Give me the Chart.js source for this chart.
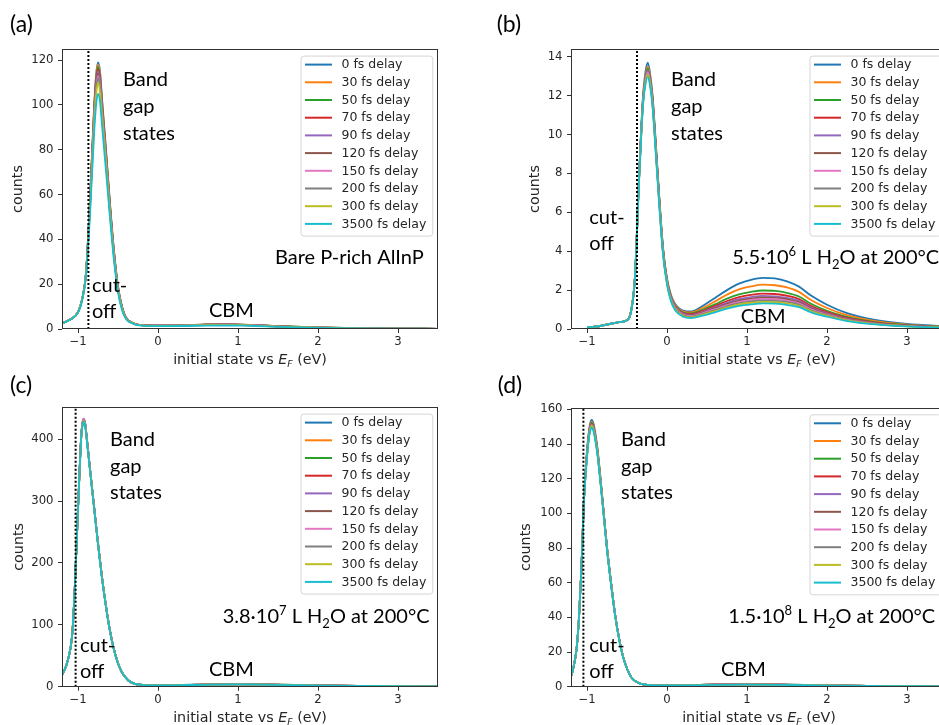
<!DOCTYPE html>
<html>
<head>
<meta charset="utf-8">
<script src="https://cdn.jsdelivr.net/npm/chart.js"></script>
<style>
  html, body { margin: 0; padding: 0; width: 939px; height: 725px; overflow: hidden; background: #fff; }
  canvas { position: absolute; }
</style>
</head>
<body>
<canvas id="pa" width="470" height="372" style="left:0px;top:0px"></canvas>
<canvas id="pb" width="507" height="372" style="left:470px;top:0px"></canvas>
<canvas id="pc" width="470" height="363" style="left:0px;top:362px"></canvas>
<canvas id="pd" width="507" height="363" style="left:470px;top:362px"></canvas>
<script>
// legend labels and tab10 colours
const delays = ['0 fs delay', '30 fs delay', '50 fs delay', '70 fs delay', '90 fs delay',
                '120 fs delay', '150 fs delay', '200 fs delay', '300 fs delay', '3500 fs delay'];
const colors = ['#1f77b4', '#ff7f0e', '#2ca02c', '#d62728', '#9467bd',
                '#8c564b', '#e377c2', '#7f7f7f', '#bcbd22', '#17becf'];

// tick labels
const xTicks = [-1, 0, 1, 2, 3];
const yTicksA = [0, 20, 40, 60, 80, 100, 120];
const yTicksB = [0, 2, 4, 6, 8, 10, 12, 14];
const yTicksC = [0, 100, 200, 300, 400];
const yTicksD = [0, 20, 40, 60, 80, 100, 120, 140, 160];

// cut-off positions (eV)
const cutA = -0.87, cutB = -0.375, cutC = -1.03, cutD = -1.045;

// (a) Bare P-rich AlInP
const xA = [-1.25, -1.2, -1.1, -1.0, -0.95, -0.9, -0.85, -0.8, -0.775, -0.75, -0.725, -0.7, -0.65, -0.6, -0.55, -0.5, -0.45, -0.4, -0.3, -0.2, 0, 0.3, 0.6, 0.9, 1.2, 1.5, 2, 2.5, 3, 3.5];
const a0 =    [2.0, 2.5, 4.2, 7.5, 13, 25, 58, 98, 113, 119, 115, 103, 80, 56, 35, 19, 10, 5, 2.4, 1.7, 1.5, 1.6, 2.0, 2.1, 1.8, 1.3, 0.7, 0.35, 0.18, 0.1];
const a30 =   [2.0, 2.5, 4.2, 7.5, 13, 25, 57.5, 97, 112, 118, 114, 102, 79, 55.5, 34.5, 19, 10, 5, 2.4, 1.7, 1.5, 1.6, 2.0, 2.1, 1.8, 1.3, 0.7, 0.35, 0.18, 0.1];
const a50 =   [2.0, 2.5, 4.2, 7.5, 13, 25, 57, 96.5, 111, 117, 113, 101, 78.5, 55, 34, 18.5, 10, 5, 2.4, 1.7, 1.5, 1.6, 1.95, 2.05, 1.75, 1.25, 0.7, 0.35, 0.18, 0.1];
const a70 =   [2.0, 2.5, 4.2, 7.5, 13, 25, 56.5, 95.5, 110, 116, 112, 100, 78, 54.5, 34, 18.5, 9.5, 5, 2.4, 1.7, 1.5, 1.6, 1.9, 2.0, 1.7, 1.2, 0.65, 0.33, 0.17, 0.1];
const a90 =   [2.0, 2.5, 4.2, 7.5, 13, 24.8, 56, 95, 109, 115, 111, 99, 77, 54, 33.5, 18, 9.5, 5, 2.4, 1.7, 1.5, 1.6, 1.9, 2.0, 1.7, 1.2, 0.65, 0.33, 0.17, 0.1];
const a120 =  [2.0, 2.5, 4.2, 7.5, 13, 24.7, 55.5, 94, 108, 114, 110, 98.5, 76.5, 53.5, 33, 18, 9.5, 5, 2.4, 1.7, 1.5, 1.6, 1.85, 1.95, 1.65, 1.15, 0.63, 0.32, 0.17, 0.1];
const a150 =  [2.0, 2.5, 4.2, 7.5, 13, 24.6, 55, 93, 107, 113, 109, 97.5, 76, 53, 33, 18, 9.5, 4.8, 2.35, 1.65, 1.45, 1.55, 1.8, 1.9, 1.6, 1.1, 0.62, 0.32, 0.17, 0.1];
const a200 =  [2.0, 2.5, 4.2, 7.5, 13, 24.5, 54.5, 92, 106, 112, 108, 96.5, 75, 52.5, 32.5, 17.5, 9.5, 4.8, 2.3, 1.6, 1.45, 1.5, 1.75, 1.85, 1.55, 1.1, 0.6, 0.31, 0.16, 0.1];
const a300 =  [2.0, 2.5, 4.2, 7.5, 13, 24.3, 53.5, 90.5, 104, 110, 106, 95, 74, 51.5, 32, 17.5, 9, 4.7, 2.3, 1.6, 1.4, 1.45, 1.7, 1.8, 1.5, 1.05, 0.58, 0.3, 0.16, 0.1];
const a3500 = [2.0, 2.5, 4.1, 7.3, 12.5, 24, 51, 86.5, 99.5, 105, 101.5, 91, 70.5, 49.5, 30.5, 16.5, 8.5, 4.5, 2.2, 1.5, 1.3, 1.35, 1.55, 1.6, 1.35, 0.95, 0.52, 0.27, 0.14, 0.09];

// (b) 5.5e6 L H2O
const xB = [-1.0, -0.9, -0.8, -0.7, -0.6, -0.5, -0.45, -0.4, -0.35, -0.3, -0.27, -0.24, -0.21, -0.18, -0.15, -0.1, -0.05, 0, 0.05, 0.1, 0.2, 0.3, 0.45, 0.6, 0.75, 0.9, 1.05, 1.2, 1.35, 1.5, 1.65, 1.8, 2.0, 2.25, 2.6, 3.0, 3.5];
const b0 =    [0.1, 0.12, 0.18, 0.27, 0.35, 0.45, 0.9, 2.7, 7.8, 12.0, 13.2, 13.7, 13.1, 12.0, 10.2, 7.0, 4.2, 2.6, 1.75, 1.3, 0.95, 0.9, 1.2, 1.6, 2.0, 2.33, 2.53, 2.63, 2.6, 2.45, 2.18, 1.72, 1.25, 0.82, 0.47, 0.26, 0.13];
const b30 =   [0.1, 0.12, 0.18, 0.27, 0.35, 0.45, 0.9, 2.7, 7.75, 11.85, 13.0, 13.5, 12.95, 11.85, 10.1, 6.95, 4.15, 2.55, 1.7, 1.25, 0.9, 0.85, 1.09, 1.42, 1.77, 2.04, 2.19, 2.28, 2.25, 2.14, 1.91, 1.49, 1.08, 0.71, 0.41, 0.23, 0.11];
const b50 =   [0.1, 0.12, 0.18, 0.27, 0.35, 0.45, 0.9, 2.7, 7.7, 11.8, 12.9, 13.4, 12.85, 11.8, 10.05, 6.9, 4.1, 2.5, 1.65, 1.2, 0.85, 0.8, 1.0, 1.27, 1.56, 1.78, 1.91, 1.98, 1.96, 1.86, 1.67, 1.3, 0.94, 0.62, 0.35, 0.2, 0.1];
const b70 =   [0.1, 0.12, 0.18, 0.27, 0.35, 0.45, 0.9, 2.7, 7.7, 11.75, 12.85, 13.3, 12.8, 11.75, 10.0, 6.85, 4.1, 2.48, 1.62, 1.17, 0.82, 0.76, 0.94, 1.18, 1.44, 1.64, 1.76, 1.82, 1.8, 1.71, 1.54, 1.19, 0.87, 0.57, 0.33, 0.18, 0.09];
const b90 =   [0.1, 0.12, 0.18, 0.27, 0.35, 0.45, 0.9, 2.7, 7.7, 11.75, 12.85, 13.3, 12.8, 11.7, 9.95, 6.8, 4.05, 2.45, 1.6, 1.15, 0.79, 0.72, 0.89, 1.11, 1.35, 1.53, 1.64, 1.7, 1.68, 1.6, 1.45, 1.11, 0.81, 0.53, 0.3, 0.17, 0.09];
const b120 =  [0.1, 0.12, 0.18, 0.27, 0.35, 0.45, 0.9, 2.7, 7.65, 11.7, 12.8, 13.2, 12.7, 11.65, 9.9, 6.8, 4.0, 2.43, 1.58, 1.12, 0.77, 0.7, 0.86, 1.07, 1.29, 1.46, 1.56, 1.62, 1.6, 1.53, 1.38, 1.06, 0.77, 0.51, 0.29, 0.16, 0.08];
const b150 =  [0.1, 0.12, 0.18, 0.27, 0.35, 0.45, 0.9, 2.7, 7.65, 11.7, 12.8, 13.2, 12.7, 11.6, 9.85, 6.75, 4.0, 2.4, 1.55, 1.1, 0.74, 0.67, 0.82, 1.02, 1.23, 1.4, 1.5, 1.55, 1.53, 1.46, 1.32, 1.01, 0.74, 0.48, 0.28, 0.15, 0.08];
const b200 =  [0.1, 0.12, 0.18, 0.27, 0.35, 0.45, 0.9, 2.7, 7.6, 11.65, 12.75, 13.1, 12.6, 11.55, 9.8, 6.7, 3.95, 2.38, 1.52, 1.07, 0.71, 0.64, 0.78, 0.97, 1.17, 1.33, 1.42, 1.47, 1.45, 1.39, 1.25, 0.96, 0.7, 0.46, 0.26, 0.15, 0.07];
const b300 =  [0.1, 0.12, 0.18, 0.27, 0.35, 0.45, 0.9, 2.7, 7.6, 11.6, 12.7, 13.1, 12.6, 11.5, 9.75, 6.65, 3.9, 2.35, 1.48, 1.03, 0.67, 0.6, 0.74, 0.92, 1.11, 1.26, 1.35, 1.4, 1.38, 1.32, 1.19, 0.92, 0.67, 0.44, 0.25, 0.14, 0.07];
const b3500 = [0.1, 0.12, 0.18, 0.27, 0.35, 0.45, 0.88, 2.65, 7.5, 11.5, 12.55, 12.95, 12.45, 11.4, 9.65, 6.55, 3.85, 2.3, 1.42, 0.98, 0.63, 0.56, 0.69, 0.86, 1.05, 1.19, 1.27, 1.32, 1.3, 1.24, 1.12, 0.86, 0.63, 0.41, 0.24, 0.13, 0.07];

// (c) 3.8e7 L H2O
const xC = [-1.25, -1.2, -1.15, -1.1, -1.07, -1.04, -1.01, -0.98, -0.96, -0.945, -0.93, -0.91, -0.89, -0.85, -0.8, -0.75, -0.7, -0.65, -0.6, -0.55, -0.5, -0.45, -0.37, -0.3, -0.2, -0.1, 0.2, 0.6, 1.0, 1.4, 2.0, 2.5, 3.0, 3.5];
const c0 =    [12, 19, 33, 58, 88, 160, 255, 350, 405, 425, 432, 425, 402, 352, 292, 232, 177, 130, 90, 60, 38, 23, 10, 5, 3, 2.3, 2.6, 3.6, 4.2, 3.6, 2.1, 1.3, 0.8, 0.5];
const c30 =   [12, 19, 33, 58, 88, 160, 255, 350, 404, 424, 431, 424, 401, 352, 292, 232, 177, 130, 90, 60, 38, 23, 10, 5, 3, 2.3, 2.6, 3.5, 4.1, 3.5, 2.1, 1.3, 0.8, 0.5];
const c50 =   [12, 19, 33, 58, 88, 160, 255, 350, 404, 424, 431, 424, 401, 351, 291, 231, 177, 130, 90, 60, 38, 23, 10, 5, 3, 2.2, 2.5, 3.5, 4.0, 3.5, 2.0, 1.3, 0.8, 0.5];
const c70 =   [12, 19, 33, 58, 88, 160, 254, 349, 403, 423, 430, 423, 400, 351, 291, 231, 176, 129, 90, 60, 38, 23, 10, 5, 3, 2.2, 2.5, 3.4, 3.9, 3.4, 2.0, 1.2, 0.8, 0.5];
const c90 =   [12, 19, 33, 58, 88, 161, 256, 351, 406, 426, 433, 426, 403, 353, 293, 232, 177, 130, 90, 60, 38, 23, 10, 5, 3, 2.2, 2.5, 3.4, 3.9, 3.4, 2.0, 1.2, 0.8, 0.5];
const c120 =  [12, 19, 33, 58, 88, 160, 255, 350, 404, 424, 431, 424, 401, 352, 292, 232, 177, 130, 90, 60, 38, 23, 10, 5, 3, 2.1, 2.4, 3.3, 3.8, 3.3, 1.9, 1.2, 0.8, 0.5];
const c150 =  [12, 19, 33, 58, 88, 160, 255, 350, 405, 425, 432, 425, 402, 352, 292, 232, 177, 130, 90, 60, 38, 23, 10, 5, 3, 2.1, 2.4, 3.3, 3.8, 3.3, 1.9, 1.2, 0.7, 0.5];
const c200 =  [12, 19, 33, 58, 88, 160, 254, 349, 403, 423, 430, 423, 400, 351, 291, 231, 176, 129, 90, 60, 38, 23, 10, 5, 3, 2.1, 2.4, 3.2, 3.7, 3.2, 1.9, 1.2, 0.7, 0.5];
const c300 =  [12, 19, 33, 58, 88, 159, 254, 348, 402, 422, 429, 422, 399, 350, 290, 230, 176, 129, 89, 59, 38, 23, 10, 5, 3, 2.0, 2.3, 3.2, 3.7, 3.2, 1.8, 1.1, 0.7, 0.4];
const c3500 = [12, 19, 33, 58, 88, 159, 253, 347, 401, 421, 428, 421, 398, 349, 290, 230, 175, 129, 89, 59, 37, 23, 10, 5, 3, 2.0, 2.3, 3.1, 3.6, 3.1, 1.8, 1.1, 0.7, 0.4];

// (d) 1.5e8 L H2O
const xD = [-1.25, -1.2, -1.17, -1.13, -1.1, -1.07, -1.04, -1.01, -0.98, -0.96, -0.94, -0.92, -0.9, -0.87, -0.83, -0.79, -0.75, -0.7, -0.65, -0.6, -0.55, -0.5, -0.44, -0.35, -0.25, -0.1, 0.2, 0.6, 1.0, 1.4, 2.0, 2.5, 3.0, 3.5];
const d0 =    [3, 6, 11, 22, 40, 68, 106, 130, 146, 152, 154, 152, 147.5, 138, 120, 100, 80.5, 60.5, 42, 28, 17.5, 10.5, 5, 2, 1.1, 0.8, 0.9, 1.3, 1.5, 1.3, 0.8, 0.5, 0.3, 0.2];
const d30 =   [3, 6, 11, 22, 40, 68, 106, 129.5, 145, 151, 153, 151, 146.5, 137, 119.5, 100, 80.5, 60.5, 42, 28, 17.5, 10.5, 5, 2, 1.1, 0.8, 0.9, 1.3, 1.45, 1.25, 0.8, 0.5, 0.3, 0.2];
const d50 =   [3, 6, 11, 22, 40, 68, 106, 129, 144.5, 150.5, 152.5, 150.5, 146, 136.5, 119, 99.5, 80, 60.5, 42, 28, 17.5, 10.5, 5, 2, 1.1, 0.8, 0.9, 1.25, 1.4, 1.25, 0.75, 0.5, 0.3, 0.2];
const d70 =   [3, 6, 11, 22, 40, 68, 106, 128.5, 144, 150, 152, 150, 145.5, 136, 118.5, 99.5, 80, 60, 42, 28, 17.5, 10.5, 5, 2, 1.1, 0.8, 0.85, 1.2, 1.4, 1.2, 0.75, 0.45, 0.3, 0.2];
const d90 =   [3, 6, 11, 22, 40, 68, 106, 128.5, 144, 150, 151.8, 149.8, 145.5, 136, 118.5, 99.5, 80, 60, 42, 28, 17.5, 10.5, 5, 2, 1.1, 0.8, 0.85, 1.2, 1.35, 1.2, 0.75, 0.45, 0.3, 0.2];
const d120 =  [3, 6, 11, 22, 40, 68, 106, 128, 143.5, 149.5, 151.5, 149.5, 145, 135.5, 118, 99, 80, 60, 42, 28, 17.5, 10.5, 5, 2, 1.1, 0.8, 0.85, 1.15, 1.35, 1.15, 0.7, 0.45, 0.3, 0.2];
const d150 =  [3, 6, 11, 22, 40, 68, 106, 127.5, 143, 149, 151, 149, 144.5, 135.5, 118, 99, 80, 60, 42, 28, 17.5, 10.5, 5, 2, 1.1, 0.8, 0.85, 1.15, 1.3, 1.15, 0.7, 0.45, 0.3, 0.2];
const d200 =  [3, 6, 11, 22, 40, 68, 106, 127.5, 143, 149, 150.8, 148.8, 144.5, 135, 117.5, 99, 79.5, 59.5, 41.5, 28, 17.5, 10.5, 5, 2, 1.1, 0.8, 0.8, 1.1, 1.3, 1.1, 0.7, 0.45, 0.3, 0.2];
const d300 =  [3, 6, 11, 22, 40, 68, 106, 127, 142.5, 148.5, 150.5, 148.5, 144, 135, 117.5, 98.5, 79.5, 59.5, 41.5, 27.5, 17.5, 10.5, 5, 2, 1.1, 0.8, 0.8, 1.1, 1.25, 1.1, 0.7, 0.45, 0.3, 0.2];
const d3500 = [3, 6, 11, 22, 40, 68, 105, 126.5, 142, 147.5, 149.5, 147.5, 143, 134, 117, 98, 79, 59, 41.5, 27.5, 17, 10.5, 5, 2, 1.1, 0.8, 0.8, 1.05, 1.2, 1.05, 0.65, 0.4, 0.3, 0.2];

const seriesA = [a0, a30, a50, a70, a90, a120, a150, a200, a300, a3500];
const seriesB = [b0, b30, b50, b70, b90, b120, b150, b200, b300, b3500];
const seriesC = [c0, c30, c50, c70, c90, c120, c150, c200, c300, c3500];
const seriesD = [d0, d30, d50, d70, d90, d120, d150, d200, d300, d3500];

const AX_FONT = '"DejaVu Sans", sans-serif';
const NOTE_FONT = 'Lato, "Open Sans", sans-serif';
const TEXT_COLOR = '#262626';

function fmtTick(v) {
  return v < 0 ? '\u2212' + Math.abs(v) : String(v);
}

// text pieces with optional sup/sub/italic, starting at x on baseline y
function richWidth(ctx, parts, size, family) {
  let w = 0;
  parts.forEach(p => {
    const s = (p.sup || p.sub) ? size * 0.65 : size;
    ctx.font = (p.it ? 'italic ' : '') + s + 'px ' + family;
    w += ctx.measureText(p.t).width;
  });
  return w;
}
function drawRich(ctx, parts, x, y, size, family) {
  let cx = x;
  parts.forEach(p => {
    const s = (p.sup || p.sub) ? size * 0.65 : size;
    ctx.font = (p.it ? 'italic ' : '') + s + 'px ' + family;
    const dy = p.sup ? -size * 0.4 : (p.sub ? size * 0.22 : 0);
    ctx.fillText(p.t, cx, y + dy);
    cx += ctx.measureText(p.t).width;
  });
}

const xTitle = [{t: 'initial state vs '}, {t: 'E', it: true}, {t: 'F', it: true, sub: true}, {t: ' (eV)'}];

const panelDeco = {
  id: 'panelDeco',
  afterDraw(chart, args, opts) {
    const ctx = chart.ctx;
    const ca = chart.chartArea;
    ctx.save();
    // frame (all four spines)
    ctx.strokeStyle = '#333';
    ctx.lineWidth = 1;
    ctx.strokeRect(Math.round(ca.left) + 0.5, Math.round(ca.top) + 0.5,
                   Math.round(ca.right - ca.left) - 1, Math.round(ca.bottom - ca.top) - 1);

    // x axis title
    ctx.fillStyle = TEXT_COLOR;
    ctx.textBaseline = 'alphabetic';
    ctx.textAlign = 'left';
    const tw = richWidth(ctx, xTitle, 14.3, AX_FONT);
    drawRich(ctx, xTitle, (ca.left + ca.right) / 2 - tw / 2, ca.bottom + 34.8, 14.3, AX_FONT);

    // legend box, built from the datasets
    const items = chart.data.datasets.filter(d => !d.isCut);
    ctx.font = '12.5px ' + AX_FONT;
    const maxW = Math.max(...items.map(d => ctx.measureText(d.label).width));
    const boxW = 4.5 + 27 + 9.5 + maxW + 6;
    const step = 17.7;
    const boxH = 9 + step * (items.length - 1) + 11.7;
    const bx = ca.right - 5.7 - boxW;
    const by = ca.top + 6.6;
    ctx.beginPath();
    ctx.roundRect(bx + 0.5, by + 0.5, boxW, boxH, 3);
    ctx.fillStyle = 'rgba(255,255,255,0.8)';
    ctx.fill();
    ctx.strokeStyle = '#d6d6d6';
    ctx.stroke();
    items.forEach((d, i) => {
      const cy = by + 9 + i * step;
      ctx.strokeStyle = d.borderColor;
      ctx.lineWidth = 2;
      ctx.beginPath();
      ctx.moveTo(bx + 4.5, cy);
      ctx.lineTo(bx + 31.5, cy);
      ctx.stroke();
      ctx.fillStyle = TEXT_COLOR;
      ctx.font = '12.5px ' + AX_FONT;
      ctx.textBaseline = 'middle';
      ctx.fillText(d.label, bx + 41, cy + 0.5);
    });

    // annotations
    ctx.fillStyle = '#000';
    ctx.textBaseline = 'alphabetic';
    opts.notes.forEach(n => {
      const parts = typeof n.t === 'string' ? [{t: n.t}] : n.t;
      drawRich(ctx, parts, n.x, n.y, n.s || 20, NOTE_FONT);
    });
    ctx.restore();
  }
};

function makePanel(p) {
  const canvas = document.getElementById(p.id);
  const W = canvas.width, H = canvas.height;
  const datasets = p.series.map((ys, i) => ({
    label: delays[i],
    data: p.xs.map((x, j) => ({x: x, y: ys[j]})),
    borderColor: colors[i],
    borderWidth: 1.8,
    pointRadius: 0,
    fill: false,
    cubicInterpolationMode: 'monotone',
    order: 10 - i
  }));
  // dotted cut-off marker
  datasets.push({
    label: 'cut-off',
    isCut: true,
    data: [{x: p.cut, y: 0}, {x: p.cut, y: p.yMax}],
    borderColor: '#000',
    borderWidth: 2,
    borderDash: [2, 2],
    pointRadius: 0,
    tension: 0,
    order: -1
  });

  new Chart(canvas, {
    type: 'line',
    data: {datasets: datasets},
    options: {
      responsive: false,
      animation: false,
      events: [],
      layout: {padding: {top: p.area.top, right: W - p.area.right, left: 0, bottom: 0}},
      scales: {
        x: {
          type: 'linear',
          min: -1.2,
          max: 3.5,
          afterBuildTicks: s => { s.ticks = xTicks.map(v => ({value: v})); },
          afterFit: s => { s.height = H - p.area.bottom; },
          ticks: {callback: fmtTick, color: TEXT_COLOR, font: {family: AX_FONT, size: 11.7}, padding: 2, maxRotation: 0},
          grid: {drawOnChartArea: false, tickLength: 4, tickColor: '#333'},
          border: {display: false}
        },
        y: {
          min: 0,
          max: p.yMax,
          afterBuildTicks: s => { s.ticks = p.yTicks.map(v => ({value: v})); },
          afterFit: s => { s.width = p.area.left; },
          ticks: {callback: fmtTick, color: TEXT_COLOR, font: {family: AX_FONT, size: 11.7}, padding: 4.5},
          grid: {drawOnChartArea: false, tickLength: 4, tickColor: '#333'},
          border: {display: false},
          title: {display: true, text: 'counts', color: TEXT_COLOR,
                  font: {family: AX_FONT, size: 14.3}, padding: {top: p.titlePad, bottom: 0}}
        }
      },
      plugins: {
        legend: {display: false},
        tooltip: {enabled: false},
        panelDeco: {notes: p.notes}
      }
    },
    plugins: [panelDeco]
  });
}

const condB = [{t: '5.5\u00b710'}, {t: '6', sup: true}, {t: ' L H'}, {t: '2', sub: true}, {t: 'O at 200\u00b0C'}];
const condC = [{t: '3.8\u00b710'}, {t: '7', sup: true}, {t: ' L H'}, {t: '2', sub: true}, {t: 'O at 200\u00b0C'}];
const condD = [{t: '1.5\u00b710'}, {t: '8', sup: true}, {t: ' L H'}, {t: '2', sub: true}, {t: 'O at 200\u00b0C'}];

makePanel({
  id: 'pa', xs: xA, series: seriesA, cut: cutA, yMax: 125, yTicks: yTicksA,
  area: {left: 62, top: 49, right: 438, bottom: 329}, titlePad: 9.7,
  notes: [
    {x: 10, y: 31.5, s: 23, t: '(a)'},
    {x: 123, y: 86, t: 'Band'}, {x: 123, y: 113.3, t: 'gap'}, {x: 123, y: 140, t: 'states'},
    {x: 92, y: 291.7, t: 'cut-'}, {x: 92, y: 318.3, t: 'off'},
    {x: 209, y: 316.7, t: 'CBM'},
    {x: 275, y: 264.3, t: 'Bare P-rich AlInP'}
  ]
});
makePanel({
  id: 'pb', xs: xB, series: seriesB, cut: cutB, yMax: 14.4, yTicks: yTicksB,
  area: {left: 101, top: 49, right: 477, bottom: 329}, titlePad: 56.4,
  notes: [
    {x: 26.7, y: 31.5, s: 23, t: '(b)'},
    {x: 201, y: 86, t: 'Band'}, {x: 201, y: 113.3, t: 'gap'}, {x: 201, y: 140, t: 'states'},
    {x: 119.3, y: 224, t: 'cut-'}, {x: 119.3, y: 250, t: 'off'},
    {x: 270.7, y: 323.3, t: 'CBM'},
    {x: 262.3, y: 264.3, t: condB}
  ]
});
makePanel({
  id: 'pc', xs: xC, series: seriesC, cut: cutC, yMax: 452, yTicks: yTicksC,
  area: {left: 62, top: 45, right: 438, bottom: 324.7}, titlePad: 10.4,
  notes: [
    {x: 10, y: 31, s: 23, t: '(c)'},
    {x: 110, y: 84, t: 'Band'}, {x: 110, y: 111.3, t: 'gap'}, {x: 110, y: 137.3, t: 'states'},
    {x: 80, y: 289.7, t: 'cut-'}, {x: 80, y: 316.3, t: 'off'},
    {x: 209, y: 314, t: 'CBM'},
    {x: 222.7, y: 261.3, t: condC}
  ]
});
makePanel({
  id: 'pd', xs: xD, series: seriesD, cut: cutD, yMax: 161, yTicks: yTicksD,
  area: {left: 101, top: 45.7, right: 477, bottom: 324.7}, titlePad: 48.1,
  notes: [
    {x: 27.7, y: 31, s: 23, t: '(d)'},
    {x: 151, y: 84, t: 'Band'}, {x: 151, y: 111.3, t: 'gap'}, {x: 151, y: 137.3, t: 'states'},
    {x: 119.3, y: 289.7, t: 'cut-'}, {x: 119.3, y: 316.3, t: 'off'},
    {x: 251, y: 314, t: 'CBM'},
    {x: 258.3, y: 261.3, t: condD}
  ]
});
</script>
</body>
</html>
